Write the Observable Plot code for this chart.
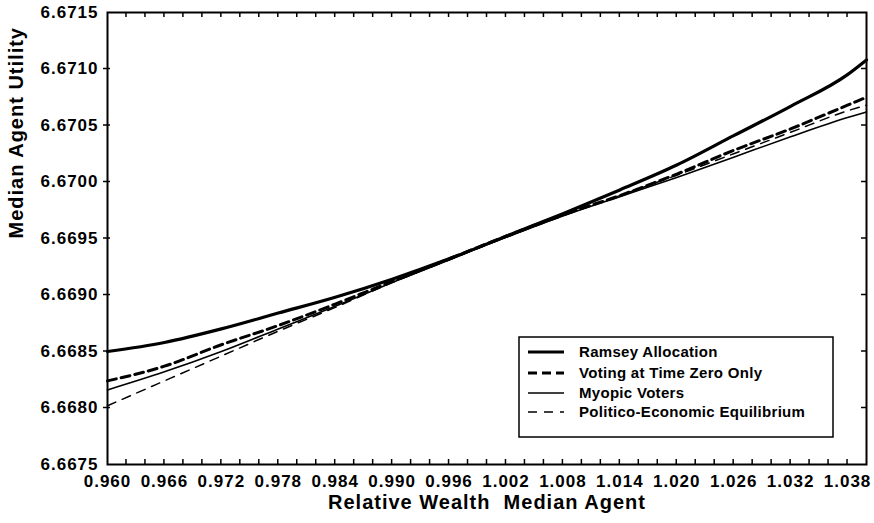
<!DOCTYPE html>
<html><head><meta charset="utf-8">
<script src="https://cdn.jsdelivr.net/npm/d3@7"></script>
<script src="https://cdn.jsdelivr.net/npm/@observablehq/plot@0.6"></script>
<style>
body{margin:0;background:#fff;}
#chart{position:relative;width:874px;height:523px;}
svg text{font-family:"Liberation Sans",Arial,Helvetica,sans-serif;white-space:pre;}
</style></head><body><div id="chart"></div>
<script>
const wealth     = [0.960, 0.966, 0.972, 0.978, 0.984, 0.990, 0.996, 1.002, 1.008, 1.014, 1.020, 1.026, 1.032, 1.038, 1.040];
const ramsey     = [6.66850, 6.66858, 6.66870, 6.66884, 6.66898, 6.66914, 6.66932, 6.66952, 6.66972, 6.66993, 6.67015, 6.67041, 6.67067, 6.67095, 6.67108];
const votingZero = [6.66824, 6.66837, 6.66856, 6.66873, 6.66892, 6.66912, 6.66932, 6.66952, 6.66971, 6.66988, 6.67007, 6.67028, 6.67047, 6.67068, 6.67075];
const myopic     = [6.66816, 6.66832, 6.66850, 6.66870, 6.66890, 6.66911, 6.66931, 6.66951, 6.66970, 6.66987, 6.67004, 6.67022, 6.67040, 6.67057, 6.67062];
const politico   = [6.66802, 6.66824, 6.66846, 6.66868, 6.66889, 6.66911, 6.66931, 6.66951, 6.66970, 6.66988, 6.67006, 6.67025, 6.67044, 6.67063, 6.67068];
const seriesNames = ["Ramsey Allocation", "Voting at Time Zero Only", "Myopic Voters", "Politico-Economic Equilibrium"];
const xTickLabels = [0.960, 0.966, 0.972, 0.978, 0.984, 0.990, 0.996, 1.002, 1.008, 1.014, 1.020, 1.026, 1.032, 1.038];
const yTickLabels = [6.6675, 6.6680, 6.6685, 6.6690, 6.6695, 6.6700, 6.6705, 6.6710, 6.6715];
const xMinorTicks = [0.962,0.964,0.966,0.968,0.970,0.972,0.974,0.976,0.978,0.980,0.982,0.984,0.986,0.988,0.990,0.992,0.994,0.996,0.998,1.000,1.002,1.004,1.006,1.008,1.010,1.012,1.014,1.016,1.018,1.020,1.022,1.024,1.026,1.028,1.030,1.032,1.034,1.036,1.038];
const yInnerTicks = [6.6680, 6.6685, 6.6690, 6.6695, 6.6700, 6.6705, 6.6710];
const xLabel = "Relative Wealth  Median Agent";
const yLabel = "Median Agent Utility";

const xDomain = [0.960, 1.040];
const yDomain = [6.6675, 6.6715];
const seriesValues = [ramsey, votingZero, myopic, politico];
const lineStyles = [
  {strokeWidth: 3.2, dash: null},
  {strokeWidth: 3, dash: "9,5"},
  {strokeWidth: 1.6, dash: null},
  {strokeWidth: 1.5, dash: "9,7"}
];

const lineMarks = seriesValues.map((vals, i) =>
  Plot.line(wealth.map((w, j) => ({x: w, y: vals[j]})), {
    x: "x", y: "y", stroke: "black", strokeWidth: lineStyles[i].strokeWidth,
    strokeDasharray: lineStyles[i].dash, curve: "monotone-x"
  })
);

const plot = Plot.plot({
  width: 874, height: 523,
  marginLeft: 107, marginRight: 8, marginTop: 12, marginBottom: 59,
  style: {fontFamily: '"Liberation Sans", Arial, sans-serif', fontSize: "17px", fontWeight: "bold", letterSpacing: "1px", color: "black", background: "white"},
  x: {domain: xDomain},
  y: {domain: yDomain},
  marks: [
    ...lineMarks,
    Plot.axisX({anchor: "bottom", ticks: xTickLabels, tickSize: 0, tickPadding: 10, tickFormat: d => d.toFixed(3), label: null}),
    Plot.axisY({anchor: "left", ticks: yTickLabels, tickSize: 0, tickPadding: 9, tickFormat: d => d.toFixed(4), label: null}),
    Plot.frame({stroke: "black", strokeWidth: 2}),
    Plot.text([xLabel], {frameAnchor: "bottom", dy: 44, fontSize: 20, fontWeight: "bold", fill: "black"}),
    Plot.text([yLabel], {frameAnchor: "left", dx: -91, rotate: -90, fontSize: 20, fontWeight: "bold", fill: "black"})
  ]
});
document.getElementById("chart").appendChild(plot);

// small inward tick marks, placed with the plot's own scales
const svg = d3.select(plot);
const sx = plot.scale("x"), sy = plot.scale("y");
const tg = svg.append("g").attr("stroke", "black").attr("stroke-width", 1.5);
const yb = sy.apply(yDomain[0]), yt = sy.apply(yDomain[1]);
const xl = sx.apply(xDomain[0]), xr = sx.apply(xDomain[1]);
const TL = 5;
xMinorTicks.forEach(v => {
  const px = sx.apply(v);
  tg.append("line").attr("x1", px).attr("x2", px).attr("y1", yb).attr("y2", yb - TL);
  tg.append("line").attr("x1", px).attr("x2", px).attr("y1", yt).attr("y2", yt + TL);
});
yInnerTicks.forEach(v => {
  const py = sy.apply(v);
  tg.append("line").attr("x1", xr).attr("x2", xr - TL).attr("y1", py).attr("y2", py);
  tg.append("line").attr("x1", xl - 4).attr("x2", xl + 3).attr("y1", py).attr("y2", py);
});

// legend
const lg = svg.append("g");
const box = {x0: 519, x1: 833, y0: 337, y1: 437};
lg.append("rect").attr("x", box.x0).attr("y", box.y0).attr("width", box.x1 - box.x0).attr("height", box.y1 - box.y0)
  .attr("fill", "white").attr("stroke", "black").attr("stroke-width", 1.5);
const rowY = [352, 373, 393, 412];
seriesNames.forEach((name, i) => {
  lg.append("line").attr("x1", 528).attr("x2", 564).attr("y1", rowY[i]).attr("y2", rowY[i])
    .attr("stroke", "black").attr("stroke-width", lineStyles[i].strokeWidth)
    .attr("stroke-dasharray", lineStyles[i].dash);
  lg.append("text").attr("x", 579).attr("y", rowY[i]).attr("dy", "0.35em")
    .attr("text-anchor", "start")
    .attr("font-size", 15).attr("font-weight", "bold").attr("letter-spacing", "0.3px")
    .attr("fill", "black").text(name);
});
</script></body></html>
